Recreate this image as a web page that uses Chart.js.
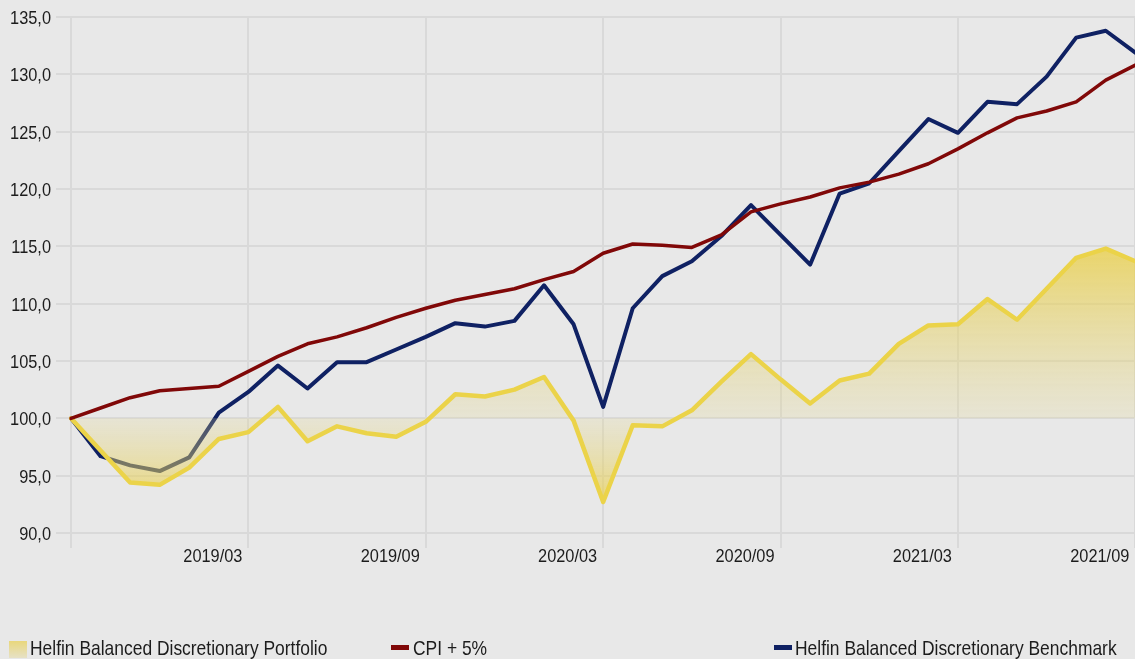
<!DOCTYPE html>
<html lang="en">
<head>
    <meta charset="UTF-8">
    <title>Helfin Balanced Discretionary Portfolio</title>
    <script src="https://cdn.jsdelivr.net/npm/chart.js"></script>
    <style>
        html, body {
            margin: 0;
            padding: 0;
            background: #e8e8e8;
            overflow: hidden;
            width: 1135px;
            height: 659px;
        }
        .chart-container {
            position: absolute;
            left: 0;
            top: 0;
            width: 1160px;
            height: 659px;
        }
        .lg-box {
            position: absolute;
        }
        .lg-text {
            position: absolute;
            top: 636px;
            font-family: 'Liberation Sans', Arial, sans-serif;
            font-size: 21px;
            line-height: 24px;
            color: #1c1c1c;
            white-space: nowrap;
            transform: scaleX(0.83);
            transform-origin: left center;
        }
    </style>
</head>
<body>
    <div class="chart-container">
        <canvas id="perfChart"></canvas>
    </div>
    <div class="lg-box" style="left:9px; top:641px; width:18px; height:17px; background:linear-gradient(#e9d77c, #e6e1c6)"></div>
    <div class="lg-text" id="lg0" style="left:30px"></div>
    <div class="lg-box" style="left:391px; top:645px; width:18px; height:5px; background:#800808"></div>
    <div class="lg-text" id="lg1" style="left:413px"></div>
    <div class="lg-box" style="left:774px; top:645px; width:18px; height:5px; background:#0f2163"></div>
    <div class="lg-text" id="lg2" style="left:795px"></div>

    <script>
        const months = [
            '2018/09', '2018/10', '2018/11', '2018/12', '2019/01', '2019/02', '2019/03', '2019/04',
            '2019/05', '2019/06', '2019/07', '2019/08', '2019/09', '2019/10', '2019/11', '2019/12',
            '2020/01', '2020/02', '2020/03', '2020/04', '2020/05', '2020/06', '2020/07', '2020/08',
            '2020/09', '2020/10', '2020/11', '2020/12', '2021/01', '2021/02', '2021/03', '2021/04',
            '2021/05', '2021/06', '2021/07', '2021/08', '2021/09'
        ];
        const portfolio = [
            100.0, 97.2, 94.4, 94.2, 95.7, 98.2, 98.8, 101.0, 98.0, 99.3, 98.7, 98.4, 99.7,
            102.1, 101.9, 102.5, 103.6, 99.8, 92.7, 99.4, 99.3, 100.7, 103.2, 105.6, 103.4,
            101.3, 103.3, 103.9, 106.5, 108.1, 108.2, 110.4, 108.6, 111.3, 114.0, 114.8, 113.7
        ];
        const cpiPlus5 = [
            100.0, 100.9, 101.8, 102.4, 102.6, 102.8, 104.1, 105.4, 106.5, 107.1, 107.9, 108.8, 109.6,
            110.3, 110.8, 111.3, 112.1, 112.8, 114.4, 115.2, 115.1, 114.9, 116.0, 118.0, 118.7,
            119.3, 120.1, 120.6, 121.3, 122.2, 123.5, 124.9, 126.2, 126.8, 127.6, 129.5, 130.8
        ];
        const benchmark = [
            100.0, 96.7, 95.9, 95.4, 96.6, 100.5, 102.3, 104.6, 102.6, 104.9, 104.9, 106.0, 107.1,
            108.3, 108.0, 108.5, 111.6, 108.2, 101.0, 109.6, 112.4, 113.7, 115.9, 118.6, 116.0,
            113.4, 119.6, 120.5, 123.3, 126.1, 124.9, 127.6, 127.4, 129.8, 133.2, 133.8, 131.9
        ];
        const seriesNames = [
            'Helfin Balanced Discretionary Portfolio',
            'CPI + 5%',
            'Helfin Balanced Discretionary Benchmark'
        ];
        const baseValue = 100;

        seriesNames.forEach(function (name, i) {
            document.getElementById('lg' + i).textContent = name;
        });

        // yellow area: strong at the extremes, pale near the 100 line
        function areaGradient(context) {
            const chart = context.chart;
            const { ctx, chartArea, scales } = chart;
            if (!chartArea) return 'rgba(233,208,75,0.4)';
            const y = scales.y;
            const top = y.getPixelForValue(Math.max(...portfolio));
            const base = y.getPixelForValue(baseValue);
            const bottom = y.getPixelForValue(Math.min(...portfolio));
            const g = ctx.createLinearGradient(0, top, 0, bottom);
            const r = (base - top) / (bottom - top);
            g.addColorStop(0, 'rgba(234,207,70,0.78)');
            g.addColorStop(r, 'rgba(228,215,140,0.22)');
            g.addColorStop(1, 'rgba(234,207,70,0.7)');
            return g;
        }

        // no condensed font installed, so tick labels are drawn squeezed by hand
        function drawNarrow(c, text, x, y) {
            c.save();
            c.translate(x, y);
            c.scale(0.86, 1);
            c.fillText(text, 0, 0);
            c.restore();
        }

        const narrowLabels = {
            id: 'narrowLabels',
            afterDraw: function (chart) {
                const c = chart.ctx;
                c.save();
                c.fillStyle = '#1c1c1c';
                c.font = '19px "Liberation Sans", Arial, sans-serif';
                c.textAlign = 'right';
                c.textBaseline = 'alphabetic';
                const ys = chart.scales.y;
                ys.ticks.forEach(function (t, i) {
                    drawNarrow(c, t.label, 51, ys.getPixelForTick(i) + 7);
                });
                const xs = chart.scales.x;
                xs.ticks.forEach(function (t, i) {
                    if (t.label) drawNarrow(c, t.label, xs.getPixelForTick(i) - 6, 562);
                });
                c.restore();
            }
        };

        const ctx = document.getElementById('perfChart').getContext('2d');
        const perfChart = new Chart(ctx, {
            type: 'line',
            data: {
                labels: months,
                datasets: [{
                    label: seriesNames[0],
                    data: portfolio,
                    borderColor: '#ebd349',
                    borderWidth: 4.5,
                    backgroundColor: areaGradient,
                    fill: { value: baseValue },
                    order: 1
                }, {
                    label: seriesNames[1],
                    data: cpiPlus5,
                    borderColor: '#800808',
                    borderWidth: 3.5,
                    fill: false,
                    order: 0
                }, {
                    label: seriesNames[2],
                    data: benchmark,
                    borderColor: '#0f2163',
                    borderWidth: 4,
                    fill: false,
                    order: 2
                }]
            },
            options: {
                responsive: true,
                maintainAspectRatio: false,
                animation: false,
                layout: {
                    padding: { top: 17, right: 22, left: 0, bottom: 0 }
                },
                elements: {
                    point: { radius: 0 },
                    line: { tension: 0, borderJoinStyle: 'round', borderCapStyle: 'round' }
                },
                plugins: {
                    legend: { display: false },
                    tooltip: { enabled: false }
                },
                scales: {
                    x: {
                        grid: {
                            color: function (c) { return c.index % 6 === 0 ? '#d9d9d9' : 'rgba(0,0,0,0)'; },
                            lineWidth: 2,
                            tickLength: 15
                        },
                        border: { display: false },
                        ticks: {
                            autoSkip: false,
                            maxRotation: 0,
                            color: 'rgba(0,0,0,0)',
                            callback: function (val, i) {
                                return (i > 0 && i % 6 === 0) ? months[i] : '';
                            }
                        },
                        afterFit: function (scale) { scale.height = 126; }
                    },
                    y: {
                        min: 90,
                        max: 135,
                        grid: {
                            color: '#d9d9d9',
                            lineWidth: 2,
                            tickLength: 15
                        },
                        border: { display: false },
                        ticks: {
                            stepSize: 5,
                            color: 'rgba(0,0,0,0)',
                            callback: function (v) { return v.toFixed(1).replace('.', ','); }
                        },
                        afterFit: function (scale) { scale.width = 71; }
                    }
                }
            },
            plugins: [narrowLabels]
        });
    </script>
</body>
</html>
